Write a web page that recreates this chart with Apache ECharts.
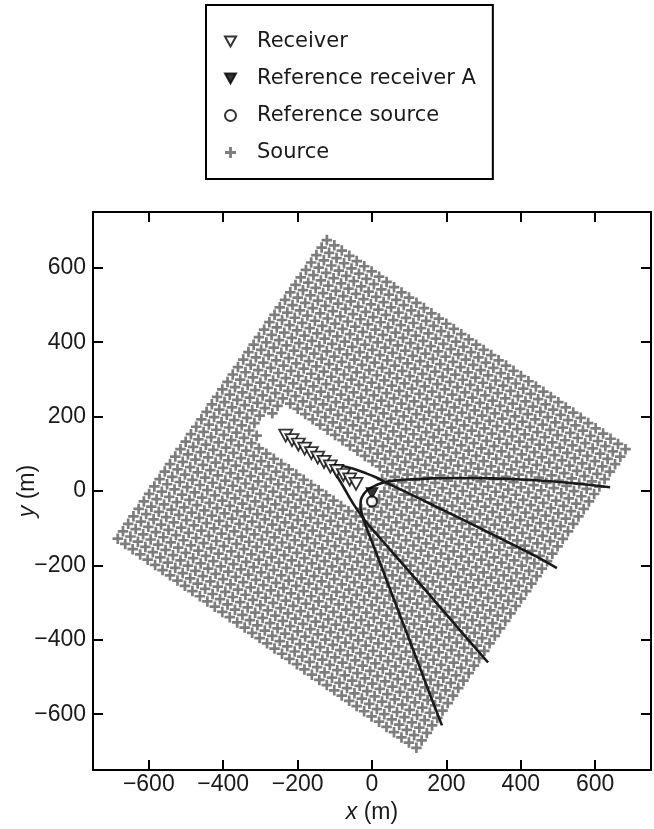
<!DOCTYPE html>
<html>
<head>
<meta charset="utf-8">
<script src="https://cdn.jsdelivr.net/npm/echarts@6/dist/echarts.min.js"></script>
<style>
  html, body { margin: 0; padding: 0; background: #fff; }
  #chart { width: 654px; height: 829px; }
</style>
</head>
<body>
<div id="chart"></div>
<script>
// receivers along the line (m)
const receiverX = [-232, -215, -198, -181, -163, -146, -129, -112, -95, -77, -60, -43]
const receiverY = [149, 137, 125, 114, 102, 90, 78, 66, 54, 43, 31, 19]
const refReceiver = [0, -6]
const refSource = [0, -28]

// source grid (rotated square)
const gridCenter = [-1, -8]
const gridAngle = -35
const gridSpacing = 24.5
const gridCount = 41
const gapRadius = 68

// curves
const curveAX = [-110, -80, -50, -20, 10, 35, 100, 170, 240, 310, 380, 440, 497]
const curveAY = [70, 67, 60, 49, 37, 24, -7, -41, -75, -110, -145, -175, -207]
const curveBX = [640, 560, 480, 400, 320, 240, 160, 100, 60, 35, 12, -8, -22, -30, -31, -27, -18, 5, 47, 89, 127, 159, 188]
const curveBY = [10, 19, 26, 31, 34, 35, 34, 31, 28, 24, 16, 6, -8, -25, -45, -62, -90, -150, -260, -370, -470, -555, -630]
const curveCX = [-110, -100, -88, -75, -62, -48, -33, -20, 0, 51, 112, 181, 250, 312]
const curveCY = [70, 50, 30, 8, -15, -38, -60, -78, -102, -160, -230, -310, -390, -461]

const xTicks = [-600, -400, -200, 0, 200, 400, 600]
const yTicks = [-600, -400, -200, 0, 200, 400, 600]

const triPath = 'path://M0,0H10L5,9Z'
const plusPath = 'path://M3.7,0H6.3V3.7H10V6.3H6.3V10H3.7V6.3H0V3.7H3.7Z'

let chart = echarts.init(document.getElementById('chart'))

let zip = (xs, ys) => xs.map((x, i) => [x, ys[i]])
let receivers = zip(receiverX, receiverY)

// build the source positions, drop those near the receiver line
let sources = []
let rad = (gridAngle * Math.PI) / 180
let half = (gridCount - 1) / 2
for (let i = 0; i < gridCount; i++) {
  for (let j = 0; j < gridCount; j++) {
    let a = (i - half) * gridSpacing,
      b = (j - half) * gridSpacing
    let x = gridCenter[0] + a * Math.cos(rad) - b * Math.sin(rad)
    let y = gridCenter[1] + a * Math.sin(rad) + b * Math.cos(rad)
    let near = receivers.some((r) => Math.hypot(r[0] - x, r[1] - y) < gapRadius)
    if (!near) sources.push([x, y])
  }
}

let fmt = (list) => (v) => (list.indexOf(v) >= 0 ? String(v).replace('-', '\u2212') : '')

let axisBase = {
  type: 'value',
  min: -750,
  max: 750,
  minInterval: 200,
  maxInterval: 200,
  splitNumber: 7,
  splitLine: { show: false },
  axisLine: { onZero: false, lineStyle: { color: '#000', width: 2 } },
  axisTick: { inside: true, length: 10, lineStyle: { color: '#000', width: 2 } },
}
let labelBase = {
  fontFamily: 'Liberation Sans',
  fontSize: 23,
  color: '#1a1a1a',
  showMinLabel: false,
  showMaxLabel: false,
}
let nameBase = {
  fontFamily: 'Liberation Sans',
  fontSize: 23,
  color: '#1a1a1a',
  rich: { i: { fontStyle: 'italic', fontFamily: 'Liberation Sans', fontSize: 23, color: '#1a1a1a' } },
}
let curveStyle = { color: '#1a1a1a', width: 2.6 }

chart.setOption({
  animation: false,
  grid: { left: 93, top: 212, right: 3, bottom: 59, containLabel: false, outerBoundsMode: 'none' },
  legend: {
    orient: 'vertical',
    left: 206,
    top: 5,
    padding: [26, 17, 16, 18],
    borderColor: '#000',
    borderWidth: 2,
    itemWidth: 11,
    itemHeight: 11,
    itemGap: 16,
    textStyle: {
      fontFamily: 'DejaVu Sans',
      fontSize: 21,
      lineHeight: 21,
      color: '#1a1a1a',
      padding: [0, 0, 0, 16],
    },
    data: [
      { name: 'Receiver', icon: triPath },
      { name: 'Reference receiver A', icon: triPath },
      { name: 'Reference source', icon: 'circle' },
      { name: 'Source', icon: plusPath },
    ],
  },
  xAxis: [
    Object.assign({}, axisBase, {
      position: 'bottom',
      axisLabel: Object.assign({}, labelBase, { margin: 3, formatter: fmt(xTicks) }),
      name: '{i|x} (m)',
      nameLocation: 'middle',
      nameGap: 31,
      nameMoveOverlap: false,
      nameTextStyle: nameBase,
    }),
    Object.assign({}, axisBase, { position: 'top', axisLabel: { show: false } }),
  ],
  yAxis: [
    Object.assign({}, axisBase, {
      position: 'left',
      axisLabel: Object.assign({}, labelBase, { margin: 7, formatter: fmt(yTicks) }),
      name: '{i|y} (m)',
      nameLocation: 'middle',
      nameGap: 54,
      nameMoveOverlap: false,
      nameTextStyle: nameBase,
    }),
    Object.assign({}, axisBase, { position: 'right', axisLabel: { show: false } }),
  ],
  series: [
    {
      name: 'Source',
      type: 'scatter',
      data: sources,
      symbol: plusPath,
      symbolSize: 10.5,
      itemStyle: { color: '#5c5c5c' },
      silent: true,
      z: 1,
    },
    { type: 'line', data: zip(curveAX, curveAY), smooth: 0.35, showSymbol: false, lineStyle: curveStyle, z: 2 },
    { type: 'line', data: zip(curveBX, curveBY), smooth: 0.35, showSymbol: false, lineStyle: curveStyle, z: 2 },
    { type: 'line', data: zip(curveCX, curveCY), smooth: 0.35, showSymbol: false, lineStyle: curveStyle, z: 2 },
    {
      name: 'Receiver',
      type: 'scatter',
      data: receivers,
      symbol: triPath,
      symbolSize: [13, 12],
      itemStyle: { color: '#fff', borderColor: '#000', borderWidth: 1.8 },
      z: 3,
    },
    {
      name: 'Reference receiver A',
      type: 'scatter',
      data: [refReceiver],
      symbol: triPath,
      symbolSize: [12, 11],
      itemStyle: { color: '#000', borderColor: '#000', borderWidth: 1 },
      z: 4,
    },
    {
      name: 'Reference source',
      type: 'scatter',
      data: [refSource],
      symbol: 'circle',
      symbolSize: 10,
      itemStyle: { color: '#fff', borderColor: '#000', borderWidth: 2.2 },
      z: 4,
    },
  ],
})
</script>
</body>
</html>
